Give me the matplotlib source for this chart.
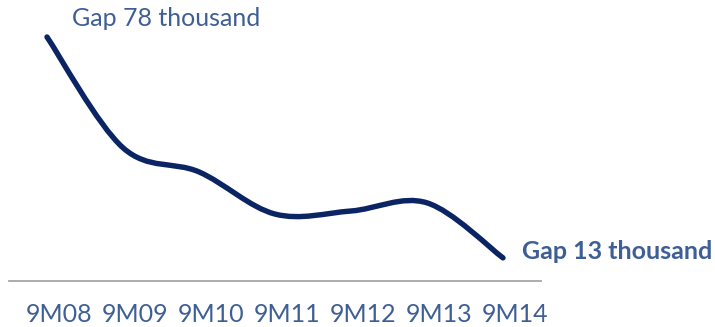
import matplotlib
matplotlib.use("Agg")
import matplotlib.pyplot as plt
import matplotlib.transforms as mtransforms
from matplotlib.path import Path
from matplotlib.patches import PathPatch

plt.rcParams['font.family'] = ['Lato', 'DejaVu Sans']

periods = ["9M08", "9M09", "9M10", "9M11", "9M12", "9M13", "9M14"]
gap = [78, 45.4, 38.3, 25.9, 26.8, 29.2, 13]  # thousand
first_label = "Gap 78 thousand"
last_label = "Gap 13 thousand"

line_col = "#0b2463"
text_col = "#3e5f95"

fig = plt.figure(figsize=(7.15, 3.27), dpi=100)
ax = fig.add_axes([9 / 715, 46 / 327, 532 / 715, 244 / 327])

# smooth line like Excel (bezier through each point)
xs = list(range(len(gap)))
pts = list(zip(xs, gap))
verts = [pts[0]]
codes = [Path.MOVETO]
n = len(pts)
for i in range(n - 1):
    p0 = pts[i - 1] if i > 0 else pts[i]
    p1 = pts[i]
    p2 = pts[i + 1]
    p3 = pts[i + 2] if i + 2 < n else pts[i + 1]
    c1 = (p1[0] + (p2[0] - p0[0]) / 6, p1[1] + (p2[1] - p0[1]) / 6)
    c2 = (p2[0] - (p3[0] - p1[0]) / 6, p2[1] - (p3[1] - p1[1]) / 6)
    verts += [c1, c2, p2]
    codes += [Path.CURVE4] * 3
ax.add_patch(PathPatch(Path(verts, codes), fill=False, edgecolor=line_col,
                       lw=3.9, capstyle='round', joinstyle='round', clip_on=False))

ax.set_xlim(-0.5, len(periods) - 0.5)
ax.set_ylim(6.2, 78)

for s in ["top", "right", "left"]:
    ax.spines[s].set_visible(False)
ax.spines["bottom"].set_color("#a6a6a6")
ax.spines["bottom"].set_linewidth(1.3)
ax.set_yticks([])
ax.set_xticks(xs)
ax.set_xticklabels(periods, fontsize=18, color=text_col)
ax.tick_params(axis='x', length=0, pad=16)
shift = mtransforms.ScaledTranslation(12 / 100, 0, fig.dpi_scale_trans)
for lab in ax.get_xticklabels():
    lab.set_transform(lab.get_transform() + shift)

ax.annotate(first_label, xy=(0, gap[0]), xytext=(25, 7), textcoords="offset pixels",
            fontsize=18, color=text_col, ha="left", va="bottom", annotation_clip=False)
ax.annotate(last_label, xy=(6, gap[-1]), xytext=(19, 6), textcoords="offset pixels",
            fontsize=18, fontweight="bold", color=text_col, ha="left", va="center",
            annotation_clip=False)

fig.savefig("out.png", dpi=100)
